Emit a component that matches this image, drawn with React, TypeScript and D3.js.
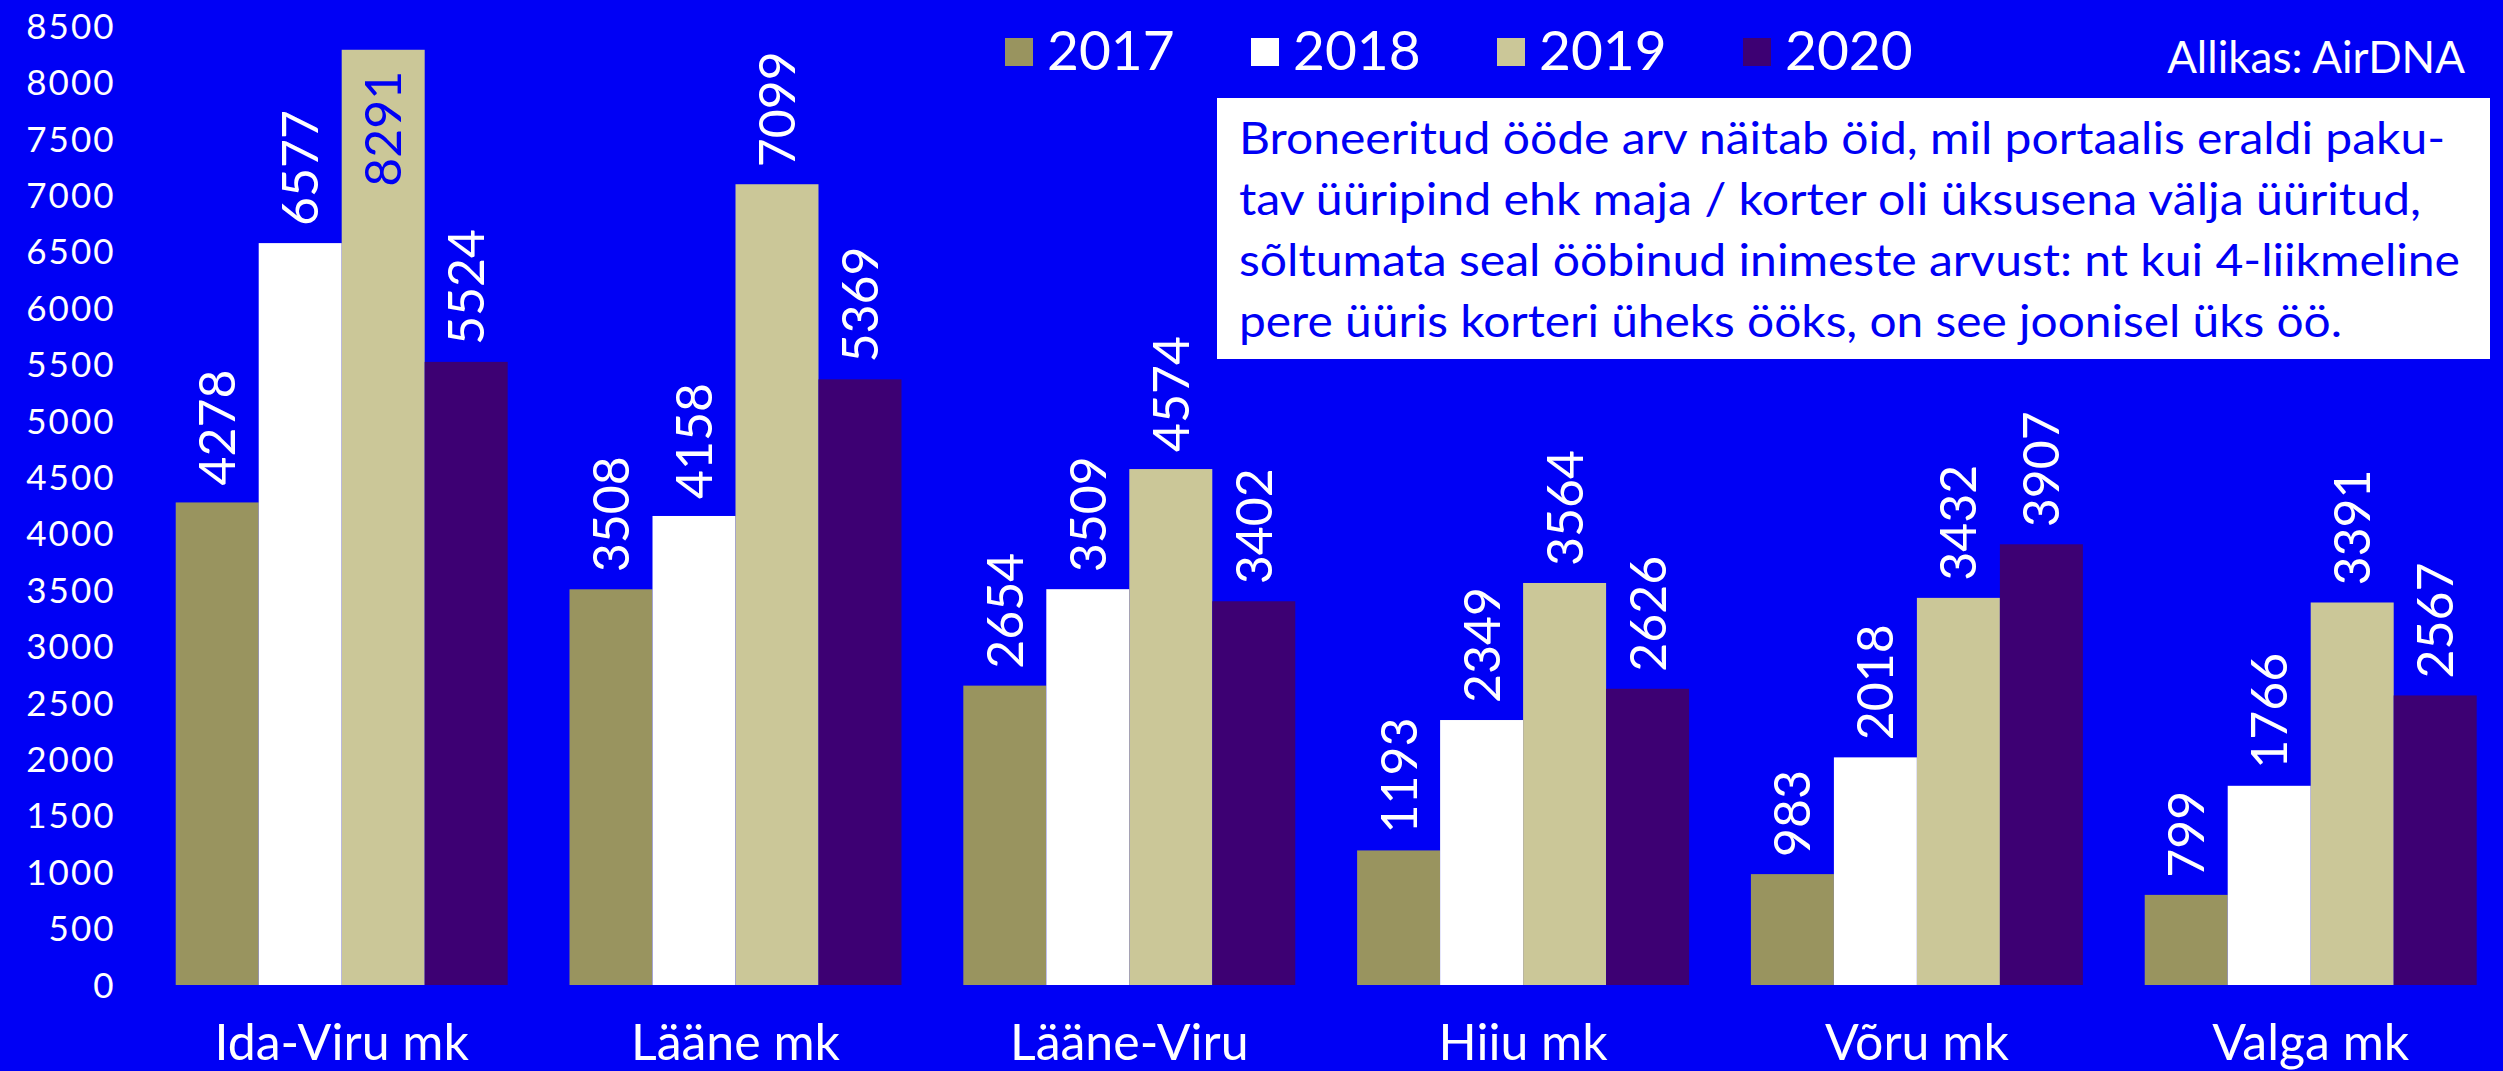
import React, { useEffect } from "react";
import * as d3 from "d3";

const categories = ["Ida-Viru mk", "Lääne mk", "Lääne-Viru", "Hiiu mk", "Võru mk", "Valga mk"];
const seriesNames = ["2017", "2018", "2019", "2020"];
const values2017 = [4278, 3508, 2654, 1193, 983, 799];
const values2018 = [6577, 4158, 3509, 2349, 2018, 1766];
const values2019 = [8291, 7099, 4574, 3564, 3432, 3391];
const values2020 = [5524, 5369, 3402, 2626, 3907, 2567];
const seriesValues = [values2017, values2018, values2019, values2020];
const seriesColors = ["#99945F", "#FFFFFF", "#CBC798", "#3D0073"];
const yTicks = d3.range(0, 8501, 500);
const noteLines = [
  "Broneeritud ööde arv näitab öid, mil portaalis eraldi paku-",
  "tav üüripind ehk maja / korter oli üksusena välja üüritud,",
  "sõltumata seal ööbinud inimeste arvust: nt kui 4-liikmeline",
  "pere üüris korteri üheks ööks, on see joonisel üks öö.",
];
const noteLengths = [1206, 1182, 1221, 1103];
const sourceText = "Allikas: AirDNA";

const W = 2503;
const H = 1071;
const BG = "#0000F5";
const FONT = "Lato, 'Open Sans', sans-serif";

export default function App() {
  useEffect(() => {
    document.body.style.margin = "0";
    document.body.style.overflow = "hidden";
  }, []);

  const step = 393.8;
  const x0 = 175.7 - 30.9;
  const x = d3
    .scaleBand<string>()
    .domain(categories)
    .range([x0, x0 + step * categories.length])
    .paddingInner(0.157)
    .paddingOuter(0.0785);
  const xs = d3.scaleBand<string>().domain(seriesNames).range([0, x.bandwidth()]).padding(0);
  const y = d3.scaleLinear().domain([0, 8500]).range([985, 26.2]);

  const legendX = d3.scalePoint<string>().domain(seriesNames).range([1005, 1743]);

  return (
    <svg width={W} height={H} style={{ position: "absolute", left: 0, top: 0, display: "block" }} fontFamily={FONT}>
      <rect x={0} y={0} width={W} height={H} fill={BG} />
      {/* y axis ticks */}
      {yTicks.map((t) => (
        <text key={t} x={115.5} y={y(t)} dy="0.36em" textAnchor="end" fill="#fff" fontSize={35} letterSpacing={2}>
          {t}
        </text>
      ))}
      {/* bars */}
      {categories.map((c, ci) => (
        <g key={c} transform={`translate(${x(c)},0)`}>
          {seriesNames.map((s, si) => {
            const v = seriesValues[si][ci];
            const bx = xs(s)!;
            const bw = xs.bandwidth();
            const top = y(v);
            return (
              <rect key={s} x={bx} y={top} width={bw} height={y(0) - top} fill={seriesColors[si]} />
            );
          })}
          {seriesNames.map((s, si) => {
            const v = seriesValues[si][ci];
            const cx = xs(s)! + xs.bandwidth() / 2;
            const top = y(v);
            const inside = v > 8000;
            const ly = inside ? top + 21 : top - 17;
            return (
              <text
                key={"l" + s}
                transform={`translate(${cx},${ly}) rotate(-90)`}
                dy="0.36em"
                textAnchor={inside ? "end" : "start"}
                fill={inside ? BG : "#fff"}
                fontSize={50}
              >
                {v}
              </text>
            );
          })}
          <text x={x.bandwidth() / 2} y={1060} textAnchor="middle" fill="#fff" fontSize={50}>
            {c}
          </text>
        </g>
      ))}
      {/* legend */}
      {seriesNames.map((s, si) => (
        <g key={s} transform={`translate(${legendX(s)},0)`}>
          <rect x={0} y={38} width={28} height={28} fill={seriesColors[si]} />
          <text x={42} y={70} fill="#fff" fontSize={55}>
            {s}
          </text>
        </g>
      ))}
      <text x={2465} y={73} textAnchor="end" fill="#fff" fontSize={44}>
        {sourceText}
      </text>
      {/* note box */}
      <rect x={1217} y={98} width={1273} height={261} fill="#fff" />
      {noteLines.map((line, i) => (
        <text
          key={i}
          x={1239}
          y={154 + i * 61}
          fill={BG}
          fontSize={45}
          textLength={noteLengths[i]}
          lengthAdjust="spacingAndGlyphs"
        >
          {line}
        </text>
      ))}
    </svg>
  );
}
